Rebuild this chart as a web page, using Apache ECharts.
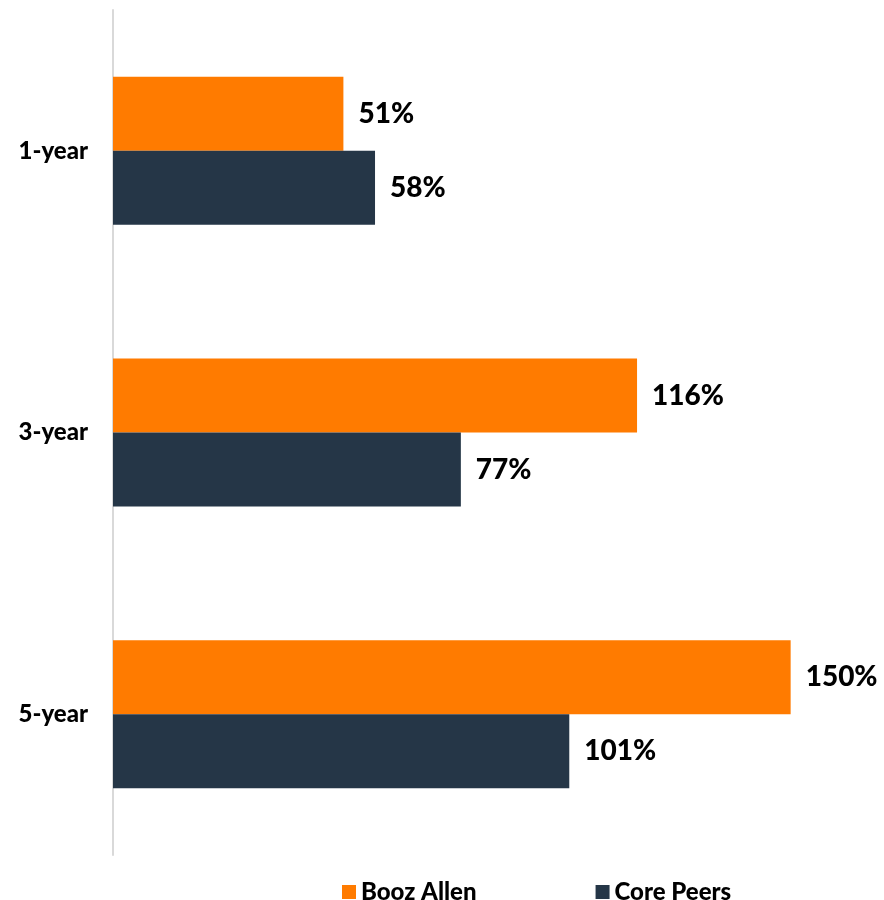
<!DOCTYPE html>
<html>
<head>
<meta charset="utf-8">
<script src="https://cdn.jsdelivr.net/npm/echarts@6/dist/echarts.min.js"></script>
<style>
  html, body { margin: 0; padding: 0; background: #fff; }
  #chart { width: 884px; height: 900px; }
</style>
</head>
<body>
<div id="chart"></div>
<script>
const categories = ["1-year", "3-year", "5-year"];
const boozAllen = [51, 116, 150];
const corePeers = [58, 77, 101];

const font = "Lato, 'Open Sans', sans-serif";
const chart = echarts.init(document.getElementById("chart"));

const labelStyle = {
  show: true,
  position: "right",
  distance: 15,
  formatter: "{c}%",
  color: "#000",
  fontSize: 28,
  fontWeight: 900,
  fontFamily: font
};

chart.setOption({
  animation: false,
  color: ["#FF7B00", "#253647"],
  grid: { left: 113, right: 3, top: 10, bottom: 45 },
  legend: {
    top: 880,
    left: 342,
    padding: 0,
    itemWidth: 14,
    itemHeight: 14,
    itemGap: 119,
    icon: "rect",
    textStyle: { color: "#000", fontSize: 24, fontWeight: 900, fontFamily: font }
  },
  xAxis: {
    type: "value",
    min: 0,
    max: 170,
    show: false
  },
  yAxis: {
    type: "category",
    data: categories,
    inverse: true,
    axisLine: { lineStyle: { color: "#d9d9d9", width: 2 } },
    axisTick: { show: false },
    axisLabel: {
      margin: 25,
      color: "#000",
      fontSize: 24,
      fontWeight: 900,
      fontFamily: font
    }
  },
  series: [
    {
      name: "Booz Allen",
      type: "bar",
      data: boozAllen,
      barWidth: 74,
      barGap: "0%",
      label: labelStyle
    },
    {
      name: "Core Peers",
      type: "bar",
      data: corePeers,
      barWidth: 74,
      barGap: "0%",
      label: labelStyle
    }
  ]
});
</script>
</body>
</html>
